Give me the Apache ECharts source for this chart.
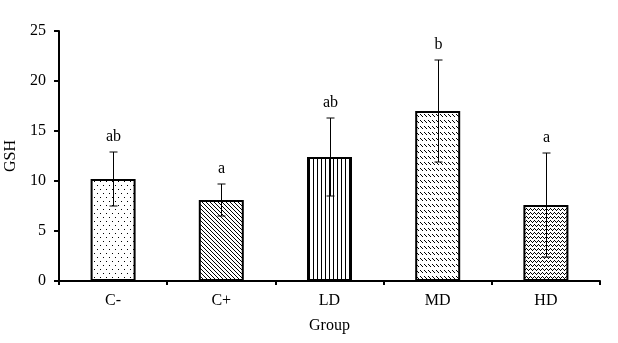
<!DOCTYPE html>
<html><head><meta charset="utf-8">
<script src="https://cdn.jsdelivr.net/npm/echarts@6/dist/echarts.min.js"></script>
<style>html,body{margin:0;padding:0;background:#fff}#c{width:618px;height:343px}</style>
</head><body><div id="c"></div>
<script>
const categories = ['C-', 'C+', 'LD', 'MD', 'HD'];
const means = [10.2, 8.1, 12.4, 17.0, 7.6];
const errors = [2.7, 1.6, 3.9, 5.1, 5.2];
const letters = ['ab', 'a', 'ab', 'b', 'a'];
const yTicks = [0, 5, 10, 15, 20, 25];

const FONT = "'Times New Roman', 'Liberation Serif', serif";
const FS = 16;

function makePattern(w, h, pts) {
  const c = document.createElement('canvas');
  c.width = w; c.height = h;
  const ctx = c.getContext('2d');
  ctx.fillStyle = '#fff'; ctx.fillRect(0, 0, w, h);
  ctx.fillStyle = '#000';
  pts.forEach(p => ctx.fillRect(p[0], p[1], 1, 1));
  return { image: c, repeat: 'repeat' };
}
const patterns = [
  makePattern(6, 8, [[1, 1], [4, 5]]),                       // dots
  makePattern(4, 4, [[0, 0], [1, 1], [2, 2], [3, 3]]),       // diagonal
  makePattern(4, 1, [[1, 0]]),                               // vertical
  makePattern(4, 6, [[0, 0], [1, 1], [2, 2]]),               // dashed diagonal rows
  makePattern(4, 4, [[0, 2], [1, 1], [2, 0], [3, 1]])        // zigzag
];

const chart = echarts.init(document.getElementById('c'), null, { renderer: 'canvas' });
chart.setOption({
  animation: false,
  backgroundColor: '#fff',
  grid: { left: 59, right: 18, top: 31, bottom: 62, containLabel: false, outerBoundsMode: 'none' },
  xAxis: {
    type: 'category', data: categories,
    name: 'Group', nameLocation: 'middle', nameGap: 37,
    nameTextStyle: { fontFamily: FONT, fontSize: FS, color: '#000', verticalAlign: 'top' },
    axisLine: { lineStyle: { color: '#000', width: 2 } },
    axisTick: { show: true, length: 4, lineStyle: { color: '#000', width: 2 } },
    axisLabel: { fontFamily: FONT, fontSize: FS, color: '#000', margin: 12 }
  },
  yAxis: {
    type: 'value', min: yTicks[0], max: yTicks[yTicks.length - 1], interval: 5,
    name: 'GSH', nameLocation: 'middle', nameGap: 33,
    nameTextStyle: { fontFamily: FONT, fontSize: FS, color: '#000' },
    axisLine: { show: true, lineStyle: { color: '#000', width: 2 } },
    axisTick: { show: true, length: 5, lineStyle: { color: '#000', width: 2 } },
    axisLabel: { fontFamily: FONT, fontSize: FS, color: '#000', margin: 13 },
    splitLine: { show: false }
  },
  series: [
    {
      type: 'bar', barWidth: 45,
      data: means.map((v, i) => ({
        value: v,
        itemStyle: { color: patterns[i], borderColor: '#000', borderWidth: 2 }
      }))
    },
    {
      type: 'custom',
      data: means.map((v, i) => [i, v, errors[i]]),
      z: 10,
      renderItem: function (params, api) {
        const i = api.value(0), m = api.value(1), e = api.value(2);
        const top = api.coord([i, m + e]);
        const bot = api.coord([i, m - e]);
        const x = Math.round(top[0]) + 0.5;
        const cw = 4;
        return {
          type: 'group',
          children: [
            { type: 'line', shape: { x1: x, y1: top[1], x2: x, y2: bot[1] }, style: { stroke: '#000', lineWidth: 1 } },
            { type: 'line', shape: { x1: x - cw, y1: top[1], x2: x + cw, y2: top[1] }, style: { stroke: '#000', lineWidth: 1 } },
            { type: 'line', shape: { x1: x - cw, y1: bot[1], x2: x + cw, y2: bot[1] }, style: { stroke: '#000', lineWidth: 1 } },
            { type: 'text', style: { text: letters[params.dataIndex], x: x, y: top[1] - 7,
              textAlign: 'center', textVerticalAlign: 'bottom', font: FS + 'px ' + FONT, fill: '#000' } }
          ]
        };
      }
    }
  ]
});
</script></body></html>
